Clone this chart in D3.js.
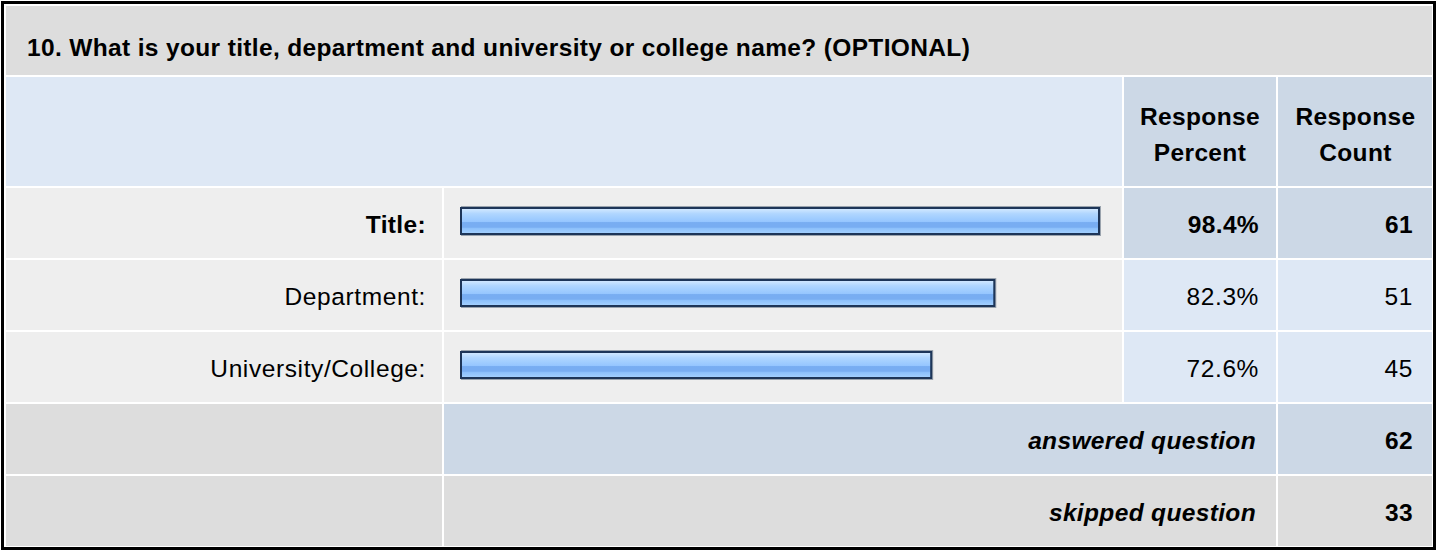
<!DOCTYPE html>
<html>
<head>
<meta charset="utf-8">
<script src="https://cdn.jsdelivr.net/npm/d3@7"></script>
<style>
  html, body { margin: 0; padding: 0; background: #ffffff; }
  svg { display: block; }
  text { font-family: "Liberation Sans", Arial, sans-serif; }
</style>
</head>
<body>
<svg id="chart" width="1437" height="550"></svg>
<script>
// ---- data ----
const questionTitle = "10. What is your title, department and university or college name? (OPTIONAL)";
const categories = ["Title:", "Department:", "University/College:"];
const responsePercent = [98.4, 82.3, 72.6];
const responseCount = [61, 51, 45];
const headerPercent = ["Response", "Percent"];
const headerCount = ["Response", "Count"];
const summaryLabels = ["answered question", "skipped question"];
const summaryValues = [62, 33];

// ---- layout ----
const W = 1437, H = 550;
const svg = d3.select("#chart");
const FS = 24.5;

const colX = { label: [6, 442], bar: [444, 1122], pct: [1124, 1276], cnt: [1278, 1432] };
const C = { grey: "#dddddd", light: "#eeeeee", blue: "#dee8f5", blueDark: "#ccd8e6" };

// frame
svg.append("rect").attr("x", 0).attr("y", 0).attr("width", W).attr("height", H).attr("fill", "#ffffff");
svg.append("rect").attr("x", 2.5).attr("y", 2.5).attr("width", 1432).attr("height", 546)
  .attr("fill", "#ffffff").attr("stroke", "#000000").attr("stroke-width", 3);

function cell(x0, x1, y0, y1, fill) {
  svg.append("rect").attr("x", x0).attr("y", y0).attr("width", x1 - x0).attr("height", y1 - y0).attr("fill", fill);
}
function txt(x, y, s, opts = {}) {
  return svg.append("text").attr("x", x).attr("y", y)
    .attr("text-anchor", opts.anchor || "end")
    .attr("font-size", FS)
    .attr("font-weight", opts.bold ? "bold" : "normal")
    .attr("font-style", opts.italic ? "italic" : "normal")
    .attr("letter-spacing", opts.bold ? 0.35 : 0.6)
    .attr("fill", "#000")
    .text(s);
}

// title row
cell(6, 1432, 6, 75, C.grey);
txt(27, 56, questionTitle, { anchor: "start", bold: true });

// header row
cell(6, 1122, 77, 186, C.blue);
cell(colX.pct[0], colX.pct[1], 77, 186, C.blueDark);
cell(colX.cnt[0], colX.cnt[1], 77, 186, C.blueDark);
headerPercent.forEach((s, i) => txt((colX.pct[0] + colX.pct[1]) / 2, 125 + i * 36, s, { anchor: "middle", bold: true }));
headerCount.forEach((s, i) => txt((colX.cnt[0] + colX.cnt[1]) / 2 + 0.5, 125 + i * 36, s, { anchor: "middle", bold: true }));

// rows
const y = d3.scaleBand().domain(categories).range([188, 402]).paddingInner(2 / 72).paddingOuter(0);
const x = d3.scaleLinear().domain([0, 100]).range([0, 650.4]);
const barX0 = 460;
const maxPct = d3.max(responsePercent);

const defs = svg.append("defs");
const grad = defs.append("linearGradient").attr("id", "barGrad").attr("x1", 0).attr("y1", 0).attr("x2", 0).attr("y2", 1);
[[0, "#d6eaff"], [0.12, "#c2e0ff"], [0.22, "#b0d6ff"], [0.38, "#a2ceff"], [0.52, "#96c6ff"],
 [0.56, "#78adf2"], [0.74, "#78adf2"], [0.78, "#8cc0fb"], [1, "#a6d2ff"]]
  .forEach(([o, c]) => grad.append("stop").attr("offset", o).attr("stop-color", c));

categories.forEach((cat, i) => {
  const y0 = y(cat), y1 = y0 + y.bandwidth();
  const hi = responsePercent[i] === maxPct;
  cell(colX.label[0], colX.label[1], y0, y1, C.light);
  cell(colX.bar[0], colX.bar[1], y0, y1, C.light);
  cell(colX.pct[0], colX.pct[1], y0, y1, hi ? C.blueDark : C.blue);
  cell(colX.cnt[0], colX.cnt[1], y0, y1, hi ? C.blueDark : C.blue);
  const cy = (y0 + y1) / 2;
  txt(426, cy + 10, cat, { bold: hi });
  txt(1259, cy + 10, responsePercent[i].toFixed(1) + "%", { bold: hi });
  txt(1413, cy + 10, responseCount[i], { bold: hi });
  const w = x(responsePercent[i]);
  const by = cy - 16;
  // subtle shadow edge
  svg.append("rect").attr("x", barX0 + 1).attr("y", by - 1).attr("width", w).attr("height", 30).attr("fill", "#9aa3ad");
  svg.append("rect").attr("x", barX0 + 1).attr("y", by + 1).attr("width", w - 2).attr("height", 26)
    .attr("fill", "url(#barGrad)").attr("stroke", "#1d3558").attr("stroke-width", 2);
});

// summary rows
const ys = d3.scaleBand().domain(summaryLabels).range([404, 546]).paddingInner(2 / 72).paddingOuter(0);
summaryLabels.forEach((lab, i) => {
  const y0 = ys(lab), y1 = y0 + ys.bandwidth();
  const fill = i === 0 ? C.blueDark : C.grey;
  cell(colX.label[0], colX.label[1], y0, y1, C.grey);
  cell(colX.bar[0], colX.pct[1], y0, y1, fill);
  cell(colX.cnt[0], colX.cnt[1], y0, y1, fill);
  const cy = (y0 + y1) / 2;
  txt(1256, cy + 10, lab, { bold: true, italic: true });
  txt(1413, cy + 10, summaryValues[i], { bold: true });
});
</script>
</body>
</html>
